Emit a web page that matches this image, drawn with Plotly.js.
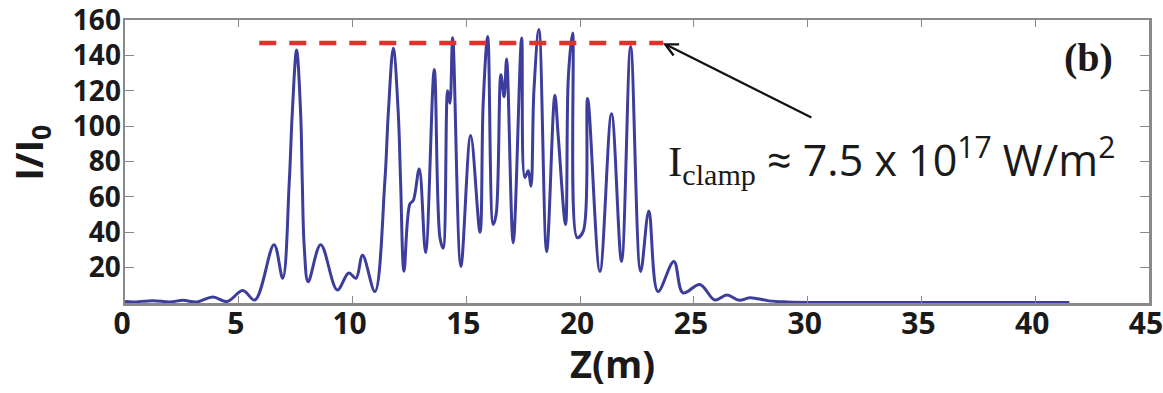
<!DOCTYPE html>
<html>
<head>
<meta charset="utf-8">
<script src="https://cdn.plot.ly/plotly-3.0.1.min.js"></script>
<style>html,body{margin:0;padding:0;background:#fff;}#chart{width:1163px;height:393px;}</style>
</head>
<body>
<div id="chart"></div>
<script>
// Propagation distance Z (m)
const zValues = [0, 0.35, 1.23, 1.97, 2.55, 3.16, 3.87, 4.48, 5.18, 5.71,
  6.55, 6.93, 7.22, 7.35, 7.54, 7.72, 7.79, 7.88, 8.05, 8.60,
  9.33, 9.83, 10.15, 10.44, 10.98, 11.42, 11.57, 11.79, 12.01, 12.11,
  12.26, 12.52, 12.67, 12.93, 13.21, 13.59, 13.84, 13.98, 14.18, 14.28,
  14.40, 14.76, 15.19, 15.60, 15.74, 15.94, 16.18, 16.31, 16.52, 16.66,
  16.77, 17.06, 17.43, 17.57, 17.72, 17.84, 17.97, 18.19, 18.53, 18.89,
  19.04, 19.36, 19.48, 19.67, 19.87, 20.14, 20.33, 20.87, 21.38, 21.82,
  22.22, 22.66, 23.02, 23.42, 24.12, 24.52, 25.26, 25.92, 26.45, 27.0,
  27.46, 28.3, 29.1, 30.5, 41.5];
// Normalised intensity I/I0
const intensity = [0.8, 0.6, 1.3, 0.6, 1.5, 0.6, 3.4, 0.8, 7, 1.7,
  33, 14, 69, 107, 143, 107, 69, 31, 12, 33,
  7.4, 17, 14, 27, 6.5, 69, 107, 144, 107, 69,
  18, 56, 58, 75.7, 28.5, 132, 37, 31, 120, 113,
  150, 20.7, 94.7, 40, 112.8, 150.7, 44.4, 50, 129, 116.6,
  138, 34, 149.8, 71, 74.8, 66, 120, 154.6, 29, 117.5,
  94, 44.4, 127, 152.6, 37, 40.6, 115.6, 17.8, 107, 23.5,
  145, 17.8, 52, 6.5, 23.5, 5.7, 10.5, 1.7, 4.5, 1.5,
  3, 1.2, 0.6, 0.3, 0.3];
// Clamping level line
const clampZ = [5.9, 23.65];
const clampI = [147, 147];
// Axis ticks
const xTicks = [0, 5, 10, 15, 20, 25, 30, 35, 40, 45];
const yTicks = [20, 40, 60, 80, 100, 120, 140, 160];

const traces = [
  {x: zValues, y: intensity, type: 'scatter', mode: 'lines',
   line: {color: '#3d3d9c', width: 3, shape: 'spline', smoothing: 1},
   hoverinfo: 'skip'},
  {x: clampZ, y: clampI, type: 'scatter', mode: 'lines',
   line: {color: '#e3302b', width: 4.5, dash: '17px,13px'}, hoverinfo: 'skip'}
];

const tickFontY = {family: 'Open Sans', size: 28, color: '#1a1a1a', weight: 700};
const tickFontX = {family: 'Open Sans', size: 30, color: '#1a1a1a', weight: 700};

const layout = {
  width: 1163, height: 393,
  margin: {l: 125, r: 14, t: 20, b: 90},
  paper_bgcolor: '#ffffff', plot_bgcolor: '#ffffff',
  showlegend: false,
  xaxis: {range: [0, 45], tickvals: xTicks, ticktext: xTicks.map(String),
    ticks: 'inside', ticklen: 7, tickwidth: 1.2, tickcolor: '#888',
    showline: true, linecolor: '#8a8a8a', linewidth: 2.5, mirror: 'ticks',
    showgrid: false, zeroline: false, tickfont: tickFontX,
    ticklabelstandoff: -8, ticklabelshift: -3, ticklabeloverflow: 'allow'},
  yaxis: {range: [0, 160], tickvals: yTicks, ticktext: yTicks.map(String),
    ticks: 'inside', ticklen: 9, tickwidth: 1.2, tickcolor: '#888',
    showline: true, linecolor: '#8a8a8a', linewidth: 2.5, mirror: 'ticks',
    showgrid: false, zeroline: false, tickfont: tickFontY,
    ticklabelstandoff: -4, ticklabeloverflow: 'allow'},
  annotations: [
    {xref: 'paper', yref: 'paper', x: 0.4756, y: -0.212, xanchor: 'center', yanchor: 'middle',
     text: 'Z(m)', showarrow: false,
     font: {family: 'Open Sans', size: 38, color: '#1a1a1a', weight: 700}},
    {xref: 'paper', yref: 'paper', x: -0.093, y: 0.53, xanchor: 'center', yanchor: 'middle',
     text: 'I/I<sub>0</sub>', textangle: -90, showarrow: false,
     font: {family: 'Open Sans', size: 38, color: '#1a1a1a', weight: 700}},
    {xref: 'paper', yref: 'paper', x: 0.967, y: 0.866, xanchor: 'right', yanchor: 'middle',
     text: '(b)', showarrow: false,
     font: {family: 'Liberation Serif', size: 40, color: '#1a1a1a', weight: 700}},
    {xref: 'paper', yref: 'paper', x: 0.528, y: 0.51, xanchor: 'left', yanchor: 'middle',
     text: '<span style="font-family:Liberation Serif">I<sub>clamp</sub></span> \u2248 7.5 x 10<sup>17</sup> W/m<sup>2</sup>',
     showarrow: false,
     font: {family: 'Open Sans', size: 43, color: '#1a1a1a'}},
    {xref: 'x', yref: 'y', x: 23.64, y: 146.9, axref: 'x', ayref: 'y', ax: 30.23, ay: 104.5,
     text: '', showarrow: true, arrowhead: 5, arrowsize: 1.1, arrowwidth: 2.2,
     arrowcolor: '#111', standoff: 0}
  ]
};

Plotly.newPlot('chart', traces, layout, {staticPlot: true, displayModeBar: false});
</script>
</body>
</html>
